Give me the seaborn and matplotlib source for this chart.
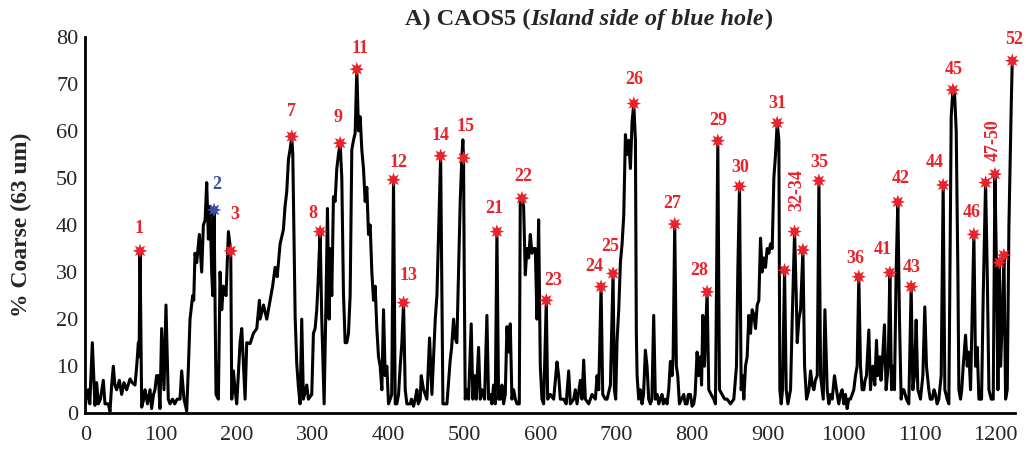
import matplotlib
matplotlib.use("Agg")
import matplotlib.pyplot as plt
import seaborn as sns
import pandas as pd

# ---------------- data ----------------
depth = [0.4, 2, 4, 6, 9.3, 12.8, 15, 17.2, 20, 23.8, 26, 30.4, 32.6, 34.8, 37, 39, 41.4, 45, 48, 51, 54.6,
         59, 62, 65.6, 67.8, 70, 71, 72.2, 74.4, 77, 78.8, 82, 85.4, 87.5, 90, 91.9, 94, 96.4, 98.5, 100.7,
         103.8, 106.4, 109.5, 111.7, 115, 118, 121, 124.9, 127.1, 130.2, 133.7, 136, 138.1, 141.6, 143,
         144.7, 146.9, 150.4, 153.5, 155.7, 158, 160.1, 162.3, 164.5, 166.7, 168, 169.8, 172.4, 175.5,
         177.7, 179.9, 182.1, 185.6, 188.7, 191.8, 193.1, 195.3, 197.5, 199.7, 204.1, 206.3, 210.7, 212.9,
         217.3, 221.7, 226.1, 229.6, 230.5, 234.9, 239.3, 243.7, 247, 250.3, 253, 256.9, 261.2, 263.4,
         265.6, 267.9, 270, 272.2, 273.6, 276.7, 278.8, 281, 283.2, 285.4, 287.6, 292, 294.2, 298.6, 300.8,
         303, 305.2, 307, 309.6, 311.8, 314.9, 317.5, 319.3, 321.5, 322.8, 325, 327.2, 329.4, 331.6, 333.8,
         336, 338.2, 340.4, 342.6, 344.8, 347, 349.2, 351.4, 353.6, 355.8, 358, 360.2, 362.4, 364.6, 366.8,
         369, 371.2, 373.4, 375.6, 377.8, 380, 382.2, 384.4, 386.6, 388.8, 391, 393.2, 395.4, 397.6, 399.8,
         402, 404, 406.4, 408.6, 410.8, 413, 415.2, 417.4, 419.6, 421.8, 424, 428.4, 430, 432.8, 435,
         437.2, 439, 441.6, 442.9, 446, 450.4, 453.9, 457, 461.4, 463.6, 465.8, 468.5, 471.5, 476.8,
         481.1, 483, 485.5, 487.5, 489.9, 492.1, 494.3, 496.5, 497.8, 498.7, 499.6, 500.9, 503.1, 505.3,
         508.8, 511, 513.2, 515.4, 518.5, 520.7, 522.9, 526.4, 529.5, 531.7, 533.9, 536, 538.3, 540.5,
         542.7, 544.9, 547.1, 549.3, 551.5, 553.7, 555.9, 558.1, 560.3, 562.5, 564.7, 567, 569.1, 572.2,
         573.5, 575.7, 577.9, 580.1, 582.3, 584.5, 586.7, 588.9, 591.1, 593.3, 595.5, 597.7, 599.9, 602.1,
         604.3, 607.8, 609.6, 613.1, 617.5, 621.9, 624.1, 626.3, 630.7, 634, 637.3, 639.5, 643.9, 646.1,
         648.3, 652.7, 654.9, 657.1, 659.3, 663.7, 668.1, 672.5, 674.7, 676.9, 680, 682.2, 685.7, 687.9,
         692.3, 695.8, 697.6, 699.3, 701.1, 703.3, 705.5, 707.7, 709.9, 712.1, 714.3, 716.5, 718.7, 720.9,
         723.1, 725.3, 726.5, 727.5, 729.6, 731.8, 734, 736, 738.4, 740.6, 742.8, 745, 747, 749.4, 751.6,
         754, 756, 758, 760.4, 762, 764.8, 767, 769.2, 771.4, 773.6, 775, 777.1, 779.3, 781.1, 783.3, 786,
         789, 791, 793.4, 795, 797.8, 800, 802.2, 804, 806.6, 808.8, 811, 812.5, 814.1, 816.3, 819.8, 822,
         825.1, 828.6, 830.8, 833.9, 836.1, 839.6, 843, 846.2, 850.6, 855, 858.5, 860.3, 862.5, 864.7,
         866.5, 868.2, 870.4, 872.6, 874.8, 877, 879.2, 881.4, 883.6, 885.8, 888, 890.2, 892.4, 894.6,
         896.8, 899, 901.2, 903.4, 905.6, 907.8, 910, 912.2, 914.4, 915.7, 917.5, 919.2, 921.9, 924.1,
         926.3, 929.8, 932, 935.1, 937.3, 938.6, 940.8, 943, 946.1, 948.3, 950.9, 954, 956.2, 958.4, 960.6,
         962.5, 965, 967.2, 969.4, 972.9, 975.1, 978.1, 980.3, 982.5, 984.7, 987.7, 991.3, 993.4, 995.5,
         997.8, 1000, 1002.2, 1004.4, 1006.5, 1008.8, 1011, 1013.2, 1015.4, 1017.6, 1019.8, 1022, 1024.2,
         1026.4, 1028, 1029.9, 1033, 1035.2, 1037, 1038.3, 1040.9, 1043.1, 1044.8, 1046, 1047.5, 1049,
         1050.5, 1053.6, 1055.8, 1058.5, 1060.7, 1062.9, 1065.1, 1066.8, 1069, 1071.2, 1073.4, 1075.6,
         1077, 1079.1, 1082.6, 1085.7, 1088.8, 1091, 1093.2, 1095.4, 1097.6, 1099.5, 1101.1, 1104.2,
         1106.8, 1109, 1112.1, 1114, 1116.5, 1119, 1120.9, 1123, 1125.3, 1128.4, 1131, 1133.2, 1136.3,
         1138.5, 1141.6, 1143.8, 1146, 1148.2, 1150.4, 1151.7, 1153.9, 1155.5, 1157.4, 1160.5, 1162.7,
         1164.9, 1167.1, 1169.3, 1171.5, 1173.7, 1175.9, 1178.1, 1181.6, 1183.8, 1186.9, 1189.1, 1191.3,
         1194.4, 1197, 1199.2, 1201.4, 1203.2, 1205, 1206.7, 1208.9, 1211.1, 1213.3, 1215.5, 1217.7,
         1220.8, 1222.1]

coarse = [2, 4, 5, 2, 15, 1.7, 6.5, 2, 3, 7, 2, 2, 0.4, 6, 10, 6, 5, 7, 4, 6.5, 5,
          7.3, 6.5, 6, 10, 15, 12, 34.5, 1.3, 3, 5, 2, 5, 1, 4, 5, 8, 8, 1, 18,
          5, 23, 3, 2, 3, 2, 3, 3, 9, 3, 0.5, 10, 20, 25, 24,
          34, 32, 38, 30, 40, 41, 49, 37, 44, 30, 25, 43.2, 4, 3,
          30, 22, 27, 25, 38.6, 34.5, 3, 9, 5, 2, 15, 18, 3, 15,
          14.8, 17, 18, 24, 20, 23, 20, 24, 27, 31, 29, 36, 39, 44,
          47, 54, 56, 58.8, 55, 20.5, 10.6, 5.6, 2, 20, 3, 6, 3, 4, 17,
          18, 22, 28, 38.6, 20, 2, 25, 43.5, 20, 35, 25, 46, 45, 52, 55,
          57.4, 50, 25.5, 15, 15, 17, 25, 56, 58, 59.5, 73.1, 60, 63, 56, 52,
          45, 48, 38, 40, 30, 24, 27, 18, 12, 10, 5, 22, 8, 10, 2,
          3, 4, 49.6, 2, 2, 4, 10, 15, 23.5, 5, 2, 2, 3, 1.5, 3,
          5, 2, 3, 8, 5, 3, 16, 4, 20, 25, 38, 54.7, 2, 2,
          11.3, 14, 20, 16, 15, 30, 45, 54.5, 58.1, 54.2, 30, 3, 5, 3,
          19, 3, 8, 3, 14, 3, 5, 3, 20.8, 3, 4, 2, 6, 2,
          38.6, 3, 3, 6, 2, 4, 18.4, 13, 19, 3, 5, 3, 2, 2,
          46, 45.7, 44, 29.4, 35, 33, 38, 34, 35, 35, 20, 41.1, 10, 3,
          2, 24, 3, 4, 3, 10.9, 8, 3, 3, 2, 9, 2, 3, 5,
          2, 7, 3, 11.3, 3, 2, 4, 3, 8, 5, 26.9, 4, 3, 3,
          6, 29.7, 5, 3, 15.5, 22, 32, 36, 42, 59.2, 55, 58, 52, 62,
          65.8, 58, 17, 8, 3, 5, 2, 4, 13.4, 10, 3, 2, 3, 20.8, 3,
          4, 2, 3, 4, 2, 3, 2, 5, 11, 8, 12, 40.2, 10, 8, 2, 3,
          4, 2, 2, 4, 4, 1.5, 2, 4, 13, 8, 12, 6, 20.8, 10, 25.8, 5,
          4, 3, 2, 57.9, 5, 4, 3, 3, 2, 3, 10, 30.4, 48.2, 5,
          8, 3, 10, 12, 20.8, 17, 22, 21, 18, 23, 24, 37.2, 30, 33,
          31, 35, 34, 36, 35, 50, 55, 61.7, 58, 5, 2, 5, 30.4, 5,
          2, 5, 20, 38.6, 25, 15, 20, 22, 34.7, 10, 3, 5, 9, 6, 5,
          7, 8, 49.4, 8, 3, 22, 5, 2, 4, 3, 8, 4, 2, 4,
          5, 2, 4, 1, 3, 3, 4, 5, 8, 10, 29, 10, 5,
          5, 7, 8, 17.7, 5, 9, 10, 6, 15.5, 8, 10, 12, 7,
          10, 18.8, 5, 10, 29.9, 5, 10, 5, 30, 44.9, 20, 3,
          5, 5, 3, 2, 26.9, 5, 8, 19.8, 5, 4, 3, 8,
          22.6, 10, 5, 3, 3, 5, 4, 2, 3, 8, 48.5, 5, 3,
          2, 63, 68.7, 68, 60, 30, 5, 3, 5, 10, 16.6, 10,
          13, 5, 22, 38, 10, 14, 3, 3, 25, 49, 30, 5,
          3, 3, 50.8, 30, 5, 32, 10, 20, 33.6, 3, 5, 40,
          65.9, 74.9]

star_depth = [72.2, 169.8, 191.8, 272.2, 309.6, 336, 358, 406.4, 419.6, 468.5, 498.7, 542.7, 575.7,
              607.8, 680, 695.8, 723.1, 777.1, 819.8, 833.9, 862.5, 912.2, 921.9, 935.1, 946.1, 967.2,
              1019.8, 1060.7, 1071.2, 1088.8, 1131, 1143.8, 1171.5, 1186.9, 1199.2, 1205, 1211.1, 1222.1]
star_coarse = [34.5, 43.2, 34.5, 58.8, 38.6, 57.4, 73.1, 49.6, 23.5, 54.7, 54.2, 38.6, 45.7,
               24, 26.9, 29.7, 65.8, 40.2, 25.8, 57.9, 48.2, 61.7, 30.4, 38.6, 34.7, 49.4,
               29, 29.9, 44.9, 26.9, 48.5, 68.7, 38, 49, 50.8, 32, 33.6, 74.9]
star_labels = ["1", "2", "3", "7", "8", "9", "11", "12", "13", "14", "15", "21", "22",
               "23", "24", "25", "26", "27", "28", "29", "30", "31", "", "32-34", "", "35",
               "36", "41", "42", "43", "44", "45", "46", "", "47-50", "", "", "52"]
star_group = ["red", "blue"] + ["red"] * 36

x_ticks = [0, 100, 200, 300, 400, 500, 600, 700, 800, 900, 1000, 1100, 1200]
y_ticks = [0, 10, 20, 30, 40, 50, 60, 70, 80]

# ---------------- layout / style ----------------
label_offsets = {  # pixel offsets (dx, dy) of each label from its star
    "1": (-1, 22), "2": (3, 25), "3": (4, 36), "7": (0, 25), "8": (-7, 18), "9": (-2, 26),
    "11": (3, 21), "12": (5, 17), "13": (5, 27), "14": (0, 20), "15": (2, 32), "21": (-3, 23),
    "22": (1, 22), "23": (7, 20), "24": (-7, 20), "25": (-3, 27), "26": (0, 24), "27": (-2, 21),
    "28": (-8, 21), "29": (0, 20), "30": (1, 19), "31": (0, 19), "32-34": (2, 42), "35": (0, 18),
    "36": (-4, 18), "41": (-7, 23), "42": (3, 23), "43": (1, 19), "44": (-8, 22), "45": (1, 20),
    "46": (-2, 22), "47-50": (-2, 34), "52": (2, 21),
}
RED = "#e8232b"
BLUE = "#3d4fa5"
palette = {"red": RED, "blue": BLUE}

sns.set_theme(style="white")
plt.rcParams["font.family"] = ["Liberation Serif", "DejaVu Serif"]

fig = plt.figure(figsize=(10.26, 4.59), dpi=100)
ax = fig.add_axes([0.0831, 0.0996, 0.9064, 0.8204])

line_df = pd.DataFrame({"depth": depth, "coarse": coarse})
sns.lineplot(data=line_df, x="depth", y="coarse", ax=ax, color="black", lw=2.2,
             sort=False, estimator=None)

star_df = pd.DataFrame({"depth": star_depth, "coarse": star_coarse, "group": star_group})
sns.scatterplot(data=star_df, x="depth", y="coarse", hue="group", palette=palette,
                marker=(8, 1, 0), s=110, linewidth=0, ax=ax, legend=False, zorder=5,
                clip_on=False)

for xd, yd, lab, grp in zip(star_depth, star_coarse, star_labels, star_group):
    if not lab:
        continue
    dx, dy = label_offsets[lab]
    rot = 90 if "-" in lab else 0
    ax.annotate(lab, xy=(xd, yd), xytext=(dx, dy), textcoords="offset pixels",
                ha="center", va="center", fontsize=13, fontweight="bold",
                color=palette[grp], rotation=rot, annotation_clip=False)

ax.set_xlim(0, 1226)
ax.set_ylim(0, 80)
ax.set_xticks(x_ticks)
ax.set_yticks(y_ticks)
ax.set_xlabel("")
ax.set_ylabel("% Coarse (63 um)", fontsize=17, fontweight="bold")
ax.yaxis.set_label_coords(-0.057, 0.5)
ax.tick_params(axis="both", direction="in", length=7, width=1.6, labelsize=16, color="black")
ax.tick_params(axis="x", pad=9)
ax.tick_params(axis="y", pad=5)
for s in ["top", "right"]:
    ax.spines[s].set_visible(False)
for s in ["left", "bottom"]:
    ax.spines[s].set_color("black")
    ax.spines[s].set_linewidth(2.0)

# title with bold + bold italic parts
t1 = fig.text(0.395, 0.945, "A) CAOS5 (", fontsize=17.5, fontweight="bold",
              ha="left", va="baseline")
t2 = ax.annotate("Island side of blue hole", xy=(1, 0), xycoords=t1, fontsize=17.5,
                 fontweight="bold", fontstyle="italic", ha="left", va="bottom",
                 annotation_clip=False)
t3 = ax.annotate(")", xy=(1, 0), xycoords=t2, fontsize=17.5, fontweight="bold",
                 ha="left", va="bottom", annotation_clip=False)

fig.savefig("out.png", dpi=100)
